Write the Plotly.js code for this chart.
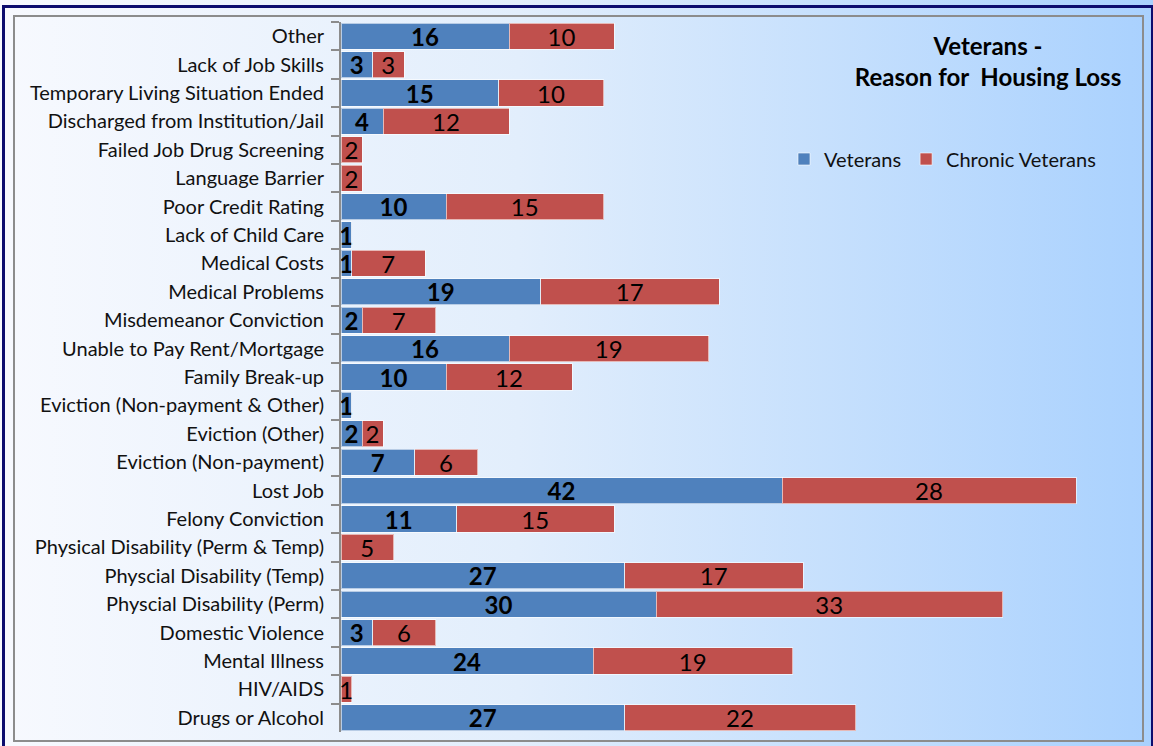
<!DOCTYPE html>
<html>
<head>
<meta charset="utf-8">
<script src="https://cdn.plot.ly/plotly-3.0.1.min.js"></script>
<style>
  html, body { margin: 0; padding: 0; }
  #wrap { position: relative; width: 1153px; height: 746px; overflow: hidden;
          background: linear-gradient(to right, #f7f9fe 0%, #e2eefc 45%, #a9d1fe 100%); }
  #outer { position: absolute; left: 2px; top: 5px; width: 1146px; height: 745px;
           border: 3px solid #0c0c6e; box-sizing: content-box; pointer-events: none; }
  #inner { position: absolute; left: 13px; top: 15px; width: 1127px; height: 723px;
           border: 2px solid #8c8c8c; pointer-events: none; }
  #chart { position: absolute; left: 0; top: 0; width: 1153px; height: 746px; }
</style>
</head>
<body>
<div id="wrap">
  <div id="outer"></div>
  <div id="inner"></div>
  <div id="chart"></div>
</div>
<script>
const categories = [
  "Other",
  "Lack of Job Skills",
  "Temporary Living Situation Ended",
  "Discharged from Institution/Jail",
  "Failed Job Drug Screening",
  "Language Barrier",
  "Poor Credit Rating",
  "Lack of Child Care",
  "Medical Costs",
  "Medical Problems",
  "Misdemeanor Conviction",
  "Unable to Pay Rent/Mortgage",
  "Family Break-up",
  "Eviction (Non-payment & Other)",
  "Eviction (Other)",
  "Eviction (Non-payment)",
  "Lost Job",
  "Felony Conviction",
  "Physical Disability (Perm & Temp)",
  "Physcial Disability (Temp)",
  "Physcial Disability (Perm)",
  "Domestic Violence",
  "Mental Illness",
  "HIV/AIDS",
  "Drugs or Alcohol"
];
const veterans = [16, 3, 15, 4, 0, 0, 10, 1, 1, 19, 2, 16, 10, 1, 2, 7, 42, 11, 0, 27, 30, 3, 24, 0, 27];
const chronicVeterans = [10, 3, 10, 12, 2, 2, 15, 0, 7, 17, 7, 19, 12, 0, 2, 6, 28, 15, 5, 17, 33, 6, 19, 1, 22];

const FONT = 'Lato, "Noto Sans", sans-serif';
const lbl = arr => arr.map(v => v > 0 ? String(v) : '');

const traces = [
  {
    type: 'bar', orientation: 'h', name: 'Veterans',
    y: categories, x: veterans,
    text: lbl(veterans), textposition: 'inside', insidetextanchor: 'middle', textangle: 0,
    constraintext: 'none',
    insidetextfont: { family: FONT, size: 24, color: '#000', weight: 'bold' },
    marker: { color: '#4f81bd', line: { color: 'rgba(255,255,255,0.6)', width: 1 } },
    hoverinfo: 'x+y'
  },
  {
    type: 'bar', orientation: 'h', name: 'Chronic Veterans',
    y: categories, x: chronicVeterans,
    text: lbl(chronicVeterans), textposition: 'inside', insidetextanchor: 'middle', textangle: 0,
    constraintext: 'none',
    insidetextfont: { family: FONT, size: 24, color: '#000' },
    marker: { color: '#c0504d', line: { color: 'rgba(255,255,255,0.6)', width: 1 } },
    hoverinfo: 'x+y'
  }
];

const layout = {
  width: 1153, height: 746,
  margin: { l: 341, r: 12, t: 22, b: 14 },
  paper_bgcolor: 'rgba(0,0,0,0)',
  plot_bgcolor: 'rgba(0,0,0,0)',
  barmode: 'stack',
  bargap: 0.08,
  uniformtext: { mode: 'show', minsize: 24 },
  font: { family: FONT, color: '#111' },
  title: {
    text: '<b>Veterans -</b><br><b>Reason for  Housing Loss</b>',
    font: { family: FONT, size: 24, color: '#000' },
    x: 988 / 1153, xanchor: 'center', xref: 'container',
    y: 1 - 55 / 746, yanchor: 'top', yref: 'container'
  },
  xaxis: {
    range: [0, 800 / 10.5],
    showgrid: false, zeroline: false, showticklabels: false, showline: false, ticks: '',
    fixedrange: true
  },
  yaxis: {
    type: 'category', autorange: 'reversed',
    showline: true, linecolor: '#8c8c8c', linewidth: 2,
    ticks: 'outside', tickson: 'boundaries', ticklen: 8, tickcolor: '#8c8c8c', tickwidth: 2,
    ticklabelstandoff: 11,
    showgrid: false, zeroline: false,
    tickfont: { family: FONT, size: 20, color: '#111' },
    fixedrange: true
  },
  showlegend: true,
  legend: {
    orientation: 'h',
    x: (784 - 341) / 800, xanchor: 'left',
    y: (732 - 159) / 710, yanchor: 'middle',
    bgcolor: 'rgba(0,0,0,0)',
    font: { family: FONT, size: 20, color: '#111' },
    traceorder: 'normal'
  }
};

Plotly.newPlot('chart', traces, layout, { displayModeBar: false, staticPlot: false });
</script>
</body>
</html>
